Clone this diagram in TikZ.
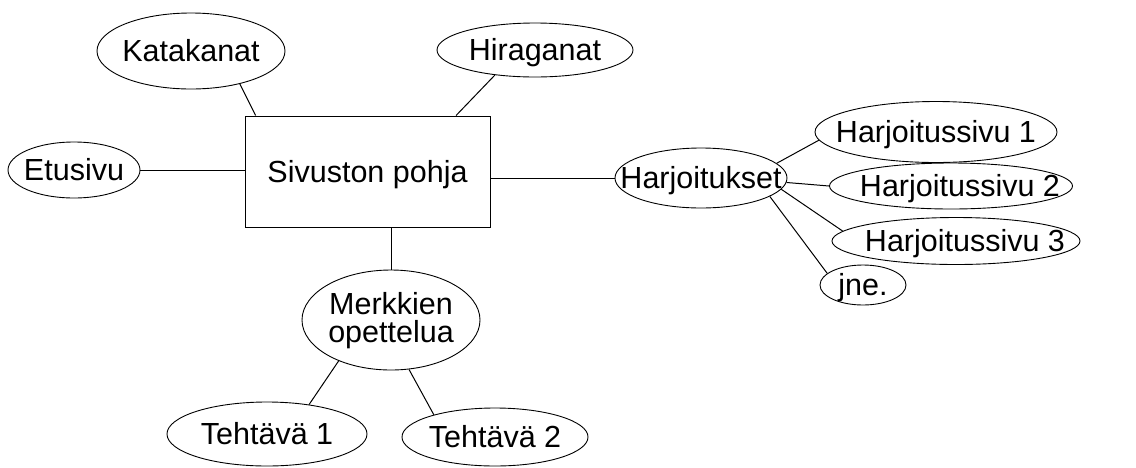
\documentclass[tikz,border=0pt]{standalone}
\usepackage{fontspec}
\setmainfont{Liberation Sans}
\usepackage{tikz}
\usetikzlibrary{shapes.geometric}
\usetikzlibrary{calc}
\usetikzlibrary{positioning}
\tikzset{%
  sivuell/.style={ellipse,draw=black,line width=0.9pt,inner sep=0pt,font=\fontsize{30.5}{33}\selectfont}
}
\tikzset{%
  sivubox/.style={rectangle,draw=black,line width=1pt,inner sep=0pt,font=\fontsize{30.5}{33}\selectfont}
}
\tikzset{%
  sivuline/.style={draw=black,line width=1pt}
}
\newcommand\sivutxt[1]{\raisebox{-0.358em}[0pt][0pt]{\makebox[0pt]{#1}}}
\newcommand\sivukaksi[2]{\raisebox{-0.25em}[0pt][0pt]{\makebox[0pt]{\begin{tabular}{@{}c@{}}#1\\[-5pt]#2\end{tabular}}}}

\begin{document}
\begin{tikzpicture}[x=1pt,y=-1pt,node distance=1mm]
            \useasboundingbox (0,0) rectangle (1136,467);
            \node[sivubox,minimum width=245pt,minimum height=111pt](pohja) at (367.5,171.5){\sivutxt{Sivuston pohja}};

            \node[sivuell,minimum width=188pt,minimum height=76pt](kata) at (191,51){\sivutxt{Katakanat}};
            \node[sivuell,minimum width=196pt,minimum height=54pt](hira) at (535,50){\sivutxt{Hiraganat}};
            \node[sivuell,minimum width=132pt,minimum height=56pt](etu) at (74,170){\sivutxt{Etusivu}};
            \node[sivuell,minimum width=172pt,minimum height=60pt](harj) at (701,178){\sivutxt{Harjoitukset}};
            \node[sivuell,minimum width=178pt,minimum height=100pt](merk) at (391,320){\sivukaksi{Merkkien}{opettelua}};
            \node[sivuell,minimum width=200pt,minimum height=64pt](teht1) at (267,434){\sivutxt{Tehtävä 1}};
            \node[sivuell,minimum width=186pt,minimum height=58pt](teht2) at (495,437){\sivutxt{Tehtävä 2}};

            \node[sivuell,minimum width=242pt,minimum height=61pt](hs1) at (936,132){\sivutxt{Harjoitussivu 1}};
            \node[sivuell,minimum width=243pt,minimum height=46pt](hs2) at (951,186){\sivutxt{\hspace*{18pt}Harjoitussivu 2}};
            \node[sivuell,minimum width=248pt,minimum height=47pt](hs3) at (956,241){\sivutxt{\hspace*{18pt}Harjoitussivu 3}};
            \node[sivuell,minimum width=86pt,minimum height=40pt](jne) at (863,285){\sivutxt{jne.}};

            \draw[sivuline] (etu.east) -- (etu.east -| pohja.west);
            \draw[sivuline] (kata.-34) -- ($(pohja.north west)!0.045!(pohja.north east)$);
            \draw[sivuline] (hira.-148) -- ($(pohja.north west)!0.86!(pohja.north east)$);
            \draw[sivuline] (harj.west) -- (harj.west -| pohja.east);
            \draw[sivuline] (merk.north) -- (merk.north |- pohja.south);
            \draw[sivuline] (merk.-142) -- (teht1.35);
            \draw[sivuline] (merk.-70) -- (teht2.160);
            \draw[sivuline] (harj.11) -- (hs1.184);
            \draw[sivuline] (harj.-3) -- (hs2.west);
            \draw[sivuline] (harj.-8) -- (hs3.175);
            \draw[sivuline] (harj.-15) -- (jne.162);
        \end{tikzpicture}
\end{document}
